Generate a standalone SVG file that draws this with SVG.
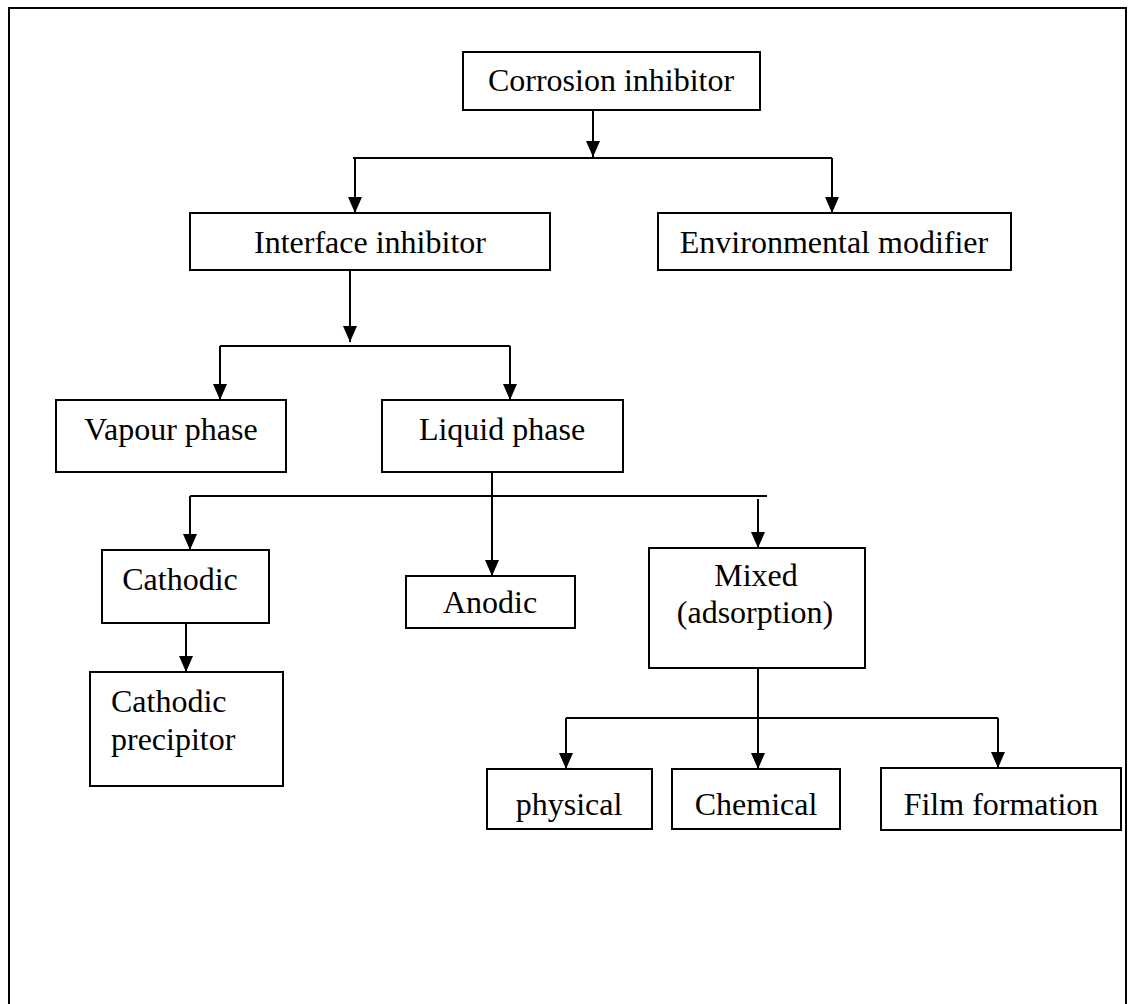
<svg xmlns="http://www.w3.org/2000/svg" width="1137" height="1004" viewBox="0 0 1137 1004">
  <style>
    .box { fill: #ffffff; stroke: #000000; stroke-width: 2; }
    .lbl { font-family: "Liberation Serif", "Times New Roman", serif; font-size: 32px; fill: #000000; text-anchor: middle; }
    .lft { text-anchor: start; }
    .ln { stroke: #000000; stroke-width: 2; fill: none; }
    .ar { stroke: #000000; stroke-width: 2; fill: none; marker-end: url(#arrow); }
  </style>
  <defs>
    <marker id="arrow" viewBox="0 0 16 14" refX="16" refY="7" markerWidth="16" markerHeight="14" markerUnits="userSpaceOnUse" orient="auto">
      <path d="M0,0 L16,7 L0,14 z" fill="#000000"/>
    </marker>
  </defs>
  <rect x="0" y="0" width="1137" height="1004" fill="#ffffff"/>
  <rect id="frame" x="9" y="8" width="1117" height="1010" fill="none" stroke="#000000" stroke-width="2"/>

  <g id="connectors">
    <line class="ar" x1="593" y1="110" x2="593" y2="157"/>
    <line class="ln" x1="353" y1="158" x2="832" y2="158"/>
    <line class="ar" x1="355" y1="158" x2="355" y2="213"/>
    <line class="ar" x1="832" y1="158" x2="832" y2="213"/>
    <line class="ar" x1="350" y1="270" x2="350" y2="342"/>
    <line class="ln" x1="220" y1="346" x2="510" y2="346"/>
    <line class="ar" x1="220" y1="346" x2="220" y2="400"/>
    <line class="ar" x1="510" y1="346" x2="510" y2="400"/>
    <line class="ar" x1="492" y1="472" x2="492" y2="576"/>
    <line class="ln" x1="190" y1="496" x2="767" y2="496"/>
    <line class="ar" x1="190" y1="496" x2="190" y2="550"/>
    <line class="ar" x1="758" y1="499" x2="758" y2="548"/>
    <line class="ar" x1="186" y1="623" x2="186" y2="672"/>
    <line class="ar" x1="758" y1="668" x2="758" y2="769"/>
    <line class="ln" x1="566" y1="718" x2="998" y2="718"/>
    <line class="ar" x1="566" y1="718" x2="566" y2="769"/>
    <line class="ar" x1="998" y1="718" x2="998" y2="768"/>
  </g>

  <g id="corrosion-inhibitor">
    <rect class="box" x="463" y="52" width="297" height="58"/>
    <text class="lbl" x="611" y="91">Corrosion inhibitor</text>
  </g>
  <g id="interface-inhibitor">
    <rect class="box" x="190" y="213" width="360" height="57"/>
    <text class="lbl" x="370" y="253">Interface inhibitor</text>
  </g>
  <g id="environmental-modifier">
    <rect class="box" x="658" y="213" width="353" height="57"/>
    <text class="lbl" x="834" y="253">Environmental modifier</text>
  </g>
  <g id="vapour-phase">
    <rect class="box" x="56" y="400" width="230" height="72"/>
    <text class="lbl" x="171" y="440">Vapour phase</text>
  </g>
  <g id="liquid-phase">
    <rect class="box" x="382" y="400" width="241" height="72"/>
    <text class="lbl" x="502" y="440">Liquid phase</text>
  </g>
  <g id="cathodic">
    <rect class="box" x="102" y="550" width="167" height="73"/>
    <text class="lbl" x="180" y="590">Cathodic</text>
  </g>
  <g id="anodic">
    <rect class="box" x="406" y="576" width="169" height="52"/>
    <text class="lbl" x="490" y="613">Anodic</text>
  </g>
  <g id="mixed">
    <rect class="box" x="649" y="548" width="216" height="120"/>
    <text class="lbl" x="756" y="586">Mixed</text>
    <text class="lbl" x="755" y="623">(adsorption)</text>
  </g>
  <g id="cathodic-precipitor">
    <rect class="box" x="90" y="672" width="193" height="114"/>
    <text class="lbl lft" x="111" y="712">Cathodic</text>
    <text class="lbl lft" x="111" y="750">precipitor</text>
  </g>
  <g id="physical">
    <rect class="box" x="487" y="769" width="165" height="60"/>
    <text class="lbl" x="569" y="815">physical</text>
  </g>
  <g id="chemical">
    <rect class="box" x="672" y="769" width="168" height="60"/>
    <text class="lbl" x="756" y="815">Chemical</text>
  </g>
  <g id="film-formation">
    <rect class="box" x="881" y="768" width="240" height="62"/>
    <text class="lbl" x="1001" y="815">Film formation</text>
  </g>
</svg>
